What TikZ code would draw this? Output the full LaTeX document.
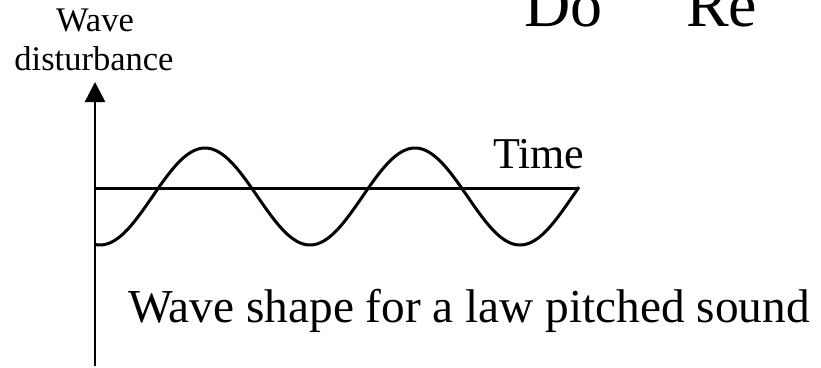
\documentclass[tikz,border=0pt]{standalone}
\usepackage{fontspec}
\setmainfont{Liberation Serif}
\usetikzlibrary{arrows.meta}
\tikzset{
  lbl/.style={inner sep=0pt, outer sep=0pt},
  axis/.style={line width=2.6pt, -{Triangle[length=20pt,width=20pt]}},
  wave/.style={line width=3pt},
}
\begin{document}
\begin{tikzpicture}[x=1pt,y=-1pt]
\useasboundingbox (0,0) rectangle (821,367);
% coordinates
\coordinate (ybot) at (95,366);
\coordinate (ytop) at (95,82);
\coordinate (tstart) at (95,188);
\coordinate (tend) at (579,188);
% axes
\draw[axis] (ybot) -- (ytop);
\draw[wave] (tstart) -- (tend);
% wave
\draw[wave, line join=round] plot[domain=96:579, samples=200, smooth] (\x, {196.5 + 48.5*cos((\x-100)/210*360)});
% labels
\node[lbl, anchor=base, font=\fontsize{34.5}{36}\selectfont] (wave) at (95,31) {Wave};
\node[lbl, anchor=base, font=\fontsize{34.5}{36}\selectfont] (dist) at (94,70) {disturbance};
\node[lbl, anchor=base west, font=\fontsize{44}{46}\selectfont] (time) at (493,168) {Time};
\node[lbl, anchor=base west, font=\fontsize{47.3}{49}\selectfont] (caption) at (128,322) {Wave shape for a law pitched sound};
\node[lbl, anchor=base west, font=\fontsize{64}{66}\selectfont] (do) at (524,26) {Do};
\node[lbl, anchor=base west, font=\fontsize{64}{66}\selectfont] (re) at (686,26) {Re};
\end{tikzpicture}
\end{document}
